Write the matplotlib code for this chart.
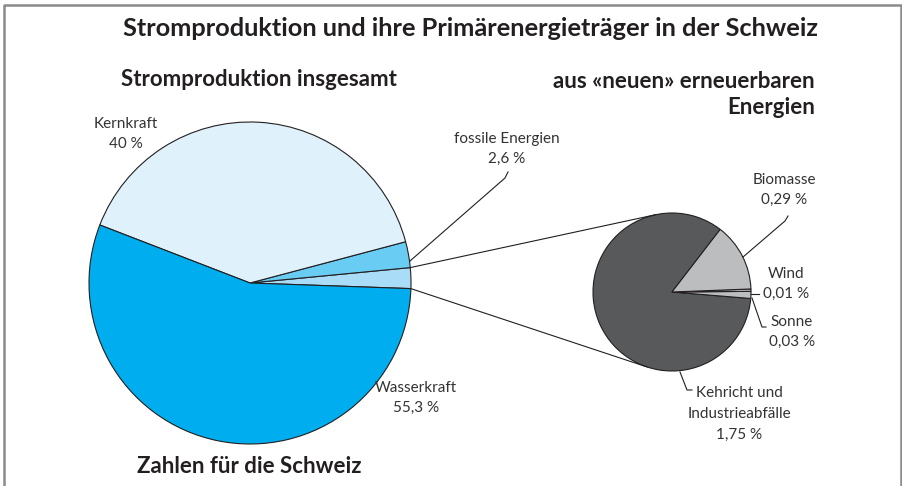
import numpy as np
import matplotlib
matplotlib.use("Agg")
import matplotlib.pyplot as plt

# main pie: Stromproduktion insgesamt (CCW order starting just below 3 o'clock)
main_labels = ["neue erneuerbare", "fossile Energien", "Kernkraft", "Wasserkraft"]
main_values = [2.08, 2.6, 40.0, 55.3]
main_colors = ["#a9dcf7", "#69cdf3", "#dff1fb", "#00aeef"]

# detail pie: aus «neuen» erneuerbaren Energien
sub_labels = ["Kehricht und\nIndustrieabfälle", "Sonne", "Wind", "Biomasse"]
sub_values = [1.75, 0.03, 0.01, 0.29]
sub_colors = ["#58595b", "#bcbdbf", "#bcbdbf", "#bcbdbf"]

W, H = 903, 486
plt.rcParams['font.family'] = ['Lato', 'DejaVu Sans']

fig = plt.figure(figsize=(W / 100, H / 100), dpi=100)
ax = fig.add_axes([0, 0, 1, 1])


def Y(y):
    return H - y


edge = dict(edgecolor="#231f20", linewidth=0.8)

# left pie
c1, r1 = (250, Y(283)), 161
w1, _ = ax.pie(main_values, colors=main_colors, startangle=-2.0, counterclock=True,
               center=c1, radius=r1, wedgeprops=edge)

# right pie, Kehricht starts where Biomasse ends
c2, r2 = (672, Y(292)), 79
w2, _ = ax.pie(sub_values, colors=sub_colors, startangle=52.4, counterclock=True,
               center=c2, radius=r2, wedgeprops=edge)

ax.set_xlim(0, W)
ax.set_ylim(0, H)
ax.set_aspect("auto")
ax.axis("off")

# connector lines from the "neue" wedge to tangents of the right pie
for ang, sign in [(w1[0].theta2, 1), (w1[0].theta1, -1)]:
    ang = np.deg2rad(ang)
    p = np.array([c1[0] + r1 * np.cos(ang), c1[1] + r1 * np.sin(ang)])
    c = np.array(c2)
    d = p - c
    base = np.arctan2(d[1], d[0])
    off = np.arccos(r2 / np.hypot(*d))
    t = base - sign * off
    q = c + r2 * np.array([np.cos(t), np.sin(t)])
    ax.plot([p[0], q[0]], [p[1], q[1]], color="#231f20", lw=0.8)

lc = "#231f20"
tc = "#231f20"
lab = dict(ha="center", va="center", fontsize=11, color="#333333", linespacing=1.6)

# labels left pie
ax.text(126, Y(134), "Kernkraft\n40 %", **lab)
ax.text(416, Y(398), "Wasserkraft\n55,3 %", **lab)
ax.text(507, Y(149), "fossile Energien\n2,6 %", **lab)
ax.plot([410, 505, 508], [Y(261), Y(178), Y(172)], color=lc, lw=0.8)

# labels right pie
ax.text(784, Y(190), "Biomasse\n0,29 %", **lab)
ax.plot([743, 785, 788], [Y(257), Y(221), Y(216)], color=lc, lw=0.8)
ax.text(786, Y(284), "Wind\n0,01 %", **lab)
ax.plot([751, 759], [Y(294), Y(294)], color=lc, lw=0.8)
ax.text(792, Y(332), "Sonne\n0,03 %", **lab)
ax.plot([752, 762, 766], [Y(298), Y(327), Y(327)], color=lc, lw=0.8)
ax.text(739, Y(414), "Kehricht und\nIndustrieabfälle\n1,75 %", **lab)
ax.plot([680, 687, 692], [Y(372), Y(390), Y(390)], color=lc, lw=0.8)

# headings
head = dict(va="center", fontweight="bold", color=tc)
ax.text(471, Y(29), "Stromproduktion und ihre Primärenergieträger in der Schweiz",
        ha="center", fontsize=18.3, **head)
ax.text(121, Y(80), "Stromproduktion insgesamt", ha="left", fontsize=16, **head)
ax.text(815, Y(82), "aus «neuen» erneuerbaren", ha="right", fontsize=16, **head)
ax.text(815, Y(108), "Energien", ha="right", fontsize=16, **head)
ax.text(249, Y(466), "Zahlen für die Schweiz", ha="center", fontsize=16, **head)

# frame (open at the bottom)
ax.plot([4, 4, 901, 901], [0, Y(5), Y(5), 0], color="#8a8a8a", lw=1.8, clip_on=False)

fig.savefig("out.png", dpi=100, facecolor="white")
